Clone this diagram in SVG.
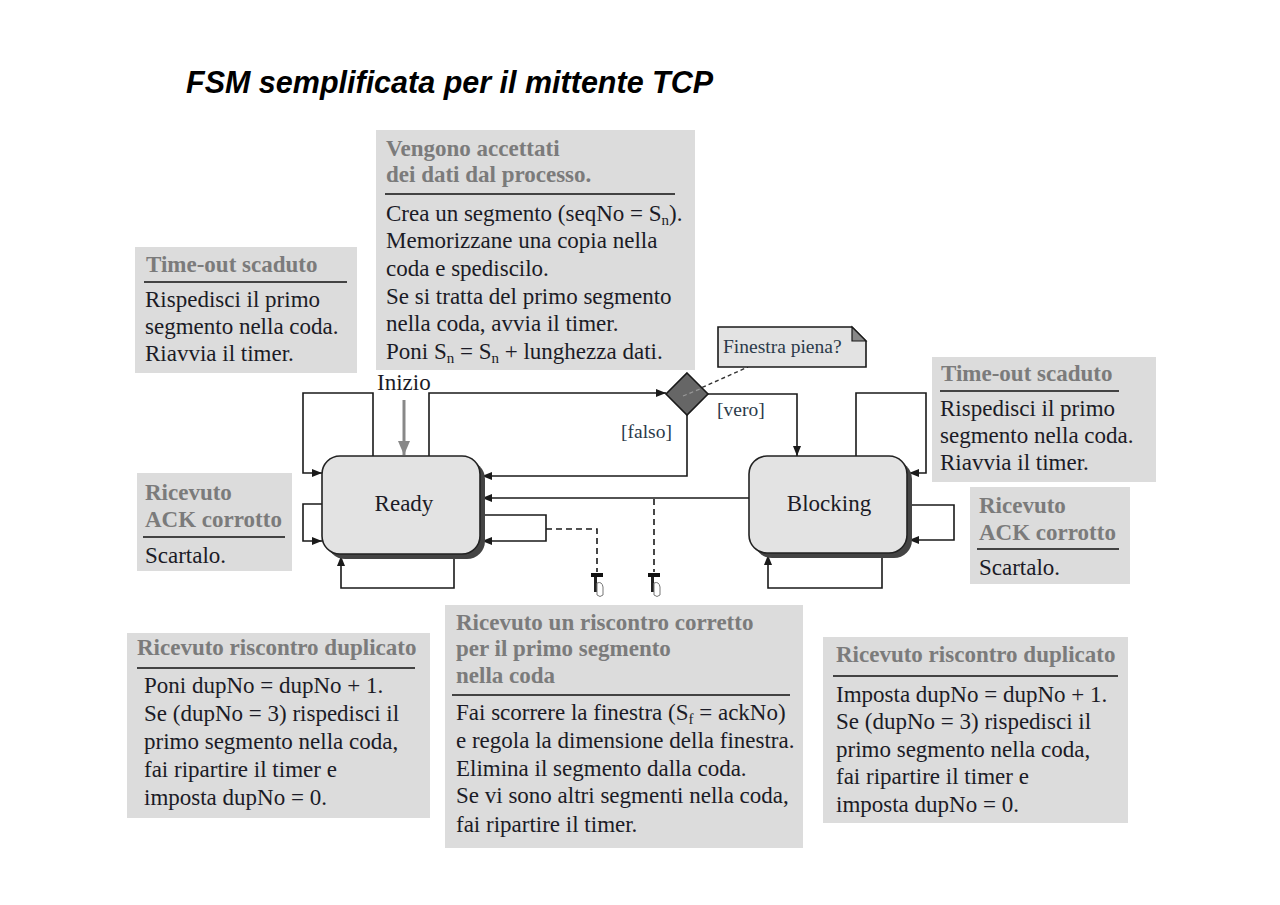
<svg xmlns="http://www.w3.org/2000/svg" width="1280" height="905" viewBox="0 0 1280 905">
<defs>
<marker id="arr" markerWidth="10" markerHeight="8" refX="10" refY="4" orient="auto" markerUnits="userSpaceOnUse">
<path d="M0,0 L10,4 L0,8 z" fill="#1a1a1a"/>
</marker>
<marker id="garr" markerWidth="14" markerHeight="12" refX="14" refY="6" orient="auto" markerUnits="userSpaceOnUse">
<path d="M0,0 L14,6 L0,12 z" fill="#888"/>
</marker>
<g id="tsym">
<rect x="-6" y="0" width="12" height="4" fill="#111"/>
<rect x="-3" y="4" width="3" height="15" fill="#222"/>
<path d="M0,10 q5,-2 6,4 l0,8 q-3,3 -6,0 z" fill="none" stroke="#777" stroke-width="1"/>
</g>
</defs>
<style>
.box{fill:#dcdcdc}
.hd{font-family:"Liberation Serif",serif;font-weight:bold;font-size:23px;fill:#7b7b7b}
.bd{font-family:"Liberation Serif",serif;font-size:23px;fill:#1b1b26}
.rule{stroke:#111;stroke-width:1.6}
.node{fill:#e3e3e3;stroke:#222;stroke-width:1.6}
.shadow{fill:#444}
.nt{font-family:"Liberation Serif",serif;font-size:23px;fill:#1b1b26;text-anchor:middle}
.lbl{font-family:"Liberation Serif",serif;font-size:19.5px;fill:#2b3a4a}
.c{fill:none;stroke:#1a1a1a;stroke-width:1.6}
.dash{fill:none;stroke:#1a1a1a;stroke-width:1.6;stroke-dasharray:6,4}
.sub{font-size:15px}
</style>
<rect width="1280" height="905" fill="#fff"/>
<text x="186" y="93" font-family="Liberation Sans, Arial, sans-serif" font-weight="bold" font-style="italic" font-size="30.5" fill="#000">FSM semplificata per il mittente TCP</text>

<g id="box-accettati">
<rect class="box" x="376" y="130" width="319" height="240"/>
<text class="hd" x="386" y="156">Vengono accettati</text>
<text class="hd" x="386" y="182">dei dati dal processo.</text>
<line class="rule" x1="385" y1="194" x2="675" y2="194"/>
<text class="bd" x="386" y="221">Crea un segmento (seqNo = S<tspan class="sub" dy="4">n</tspan><tspan dy="-4">).</tspan></text>
<text class="bd" x="386" y="248">Memorizzane una copia nella</text>
<text class="bd" x="386" y="276">coda e spediscilo.</text>
<text class="bd" x="386" y="304">Se si tratta del primo segmento</text>
<text class="bd" x="386" y="331">nella coda, avvia il timer.</text>
<text class="bd" x="386" y="359">Poni S<tspan class="sub" dy="4">n</tspan><tspan dy="-4"> = S</tspan><tspan class="sub" dy="4">n</tspan><tspan dy="-4"> + lunghezza dati.</tspan></text>
</g>

<g id="box-timeout-ready">
<rect class="box" x="135" y="247" width="222" height="126"/>
<text class="hd" x="146" y="272">Time-out scaduto</text>
<line class="rule" x1="144" y1="282" x2="347" y2="282"/>
<text class="bd" x="145" y="307">Rispedisci il primo</text>
<text class="bd" x="145" y="334">segmento nella coda.</text>
<text class="bd" x="145" y="361">Riavvia il timer.</text>
</g>

<g id="box-ack-ready">
<rect class="box" x="137" y="473" width="155" height="98"/>
<text class="hd" x="145" y="500">Ricevuto</text>
<text class="hd" x="145" y="527">ACK corrotto</text>
<line class="rule" x1="143" y1="537" x2="285" y2="537"/>
<text class="bd" x="145" y="563">Scartalo.</text>
</g>

<g id="box-timeout-blocking">
<rect class="box" x="932" y="357" width="224" height="125"/>
<text class="hd" x="941" y="381">Time-out scaduto</text>
<line class="rule" x1="940" y1="391" x2="1119" y2="391"/>
<text class="bd" x="940" y="416">Rispedisci il primo</text>
<text class="bd" x="940" y="443">segmento nella coda.</text>
<text class="bd" x="940" y="470">Riavvia il timer.</text>
</g>

<g id="box-ack-blocking">
<rect class="box" x="970" y="487" width="160" height="97"/>
<text class="hd" x="979" y="513">Ricevuto</text>
<text class="hd" x="979" y="540">ACK corrotto</text>
<line class="rule" x1="977" y1="549" x2="1119" y2="549"/>
<text class="bd" x="979" y="575">Scartalo.</text>
</g>

<g id="box-dup-ready">
<rect class="box" x="127" y="633" width="303" height="185"/>
<text class="hd" x="137" y="655">Ricevuto riscontro duplicato</text>
<line class="rule" x1="137" y1="668" x2="415" y2="668"/>
<text class="bd" x="144" y="693">Poni dupNo = dupNo + 1.</text>
<text class="bd" x="144" y="721">Se (dupNo = 3) rispedisci il</text>
<text class="bd" x="144" y="749">primo segmento nella coda,</text>
<text class="bd" x="144" y="777">fai ripartire il timer e</text>
<text class="bd" x="144" y="805">imposta dupNo = 0.</text>
</g>

<g id="box-ack-ok">
<rect class="box" x="445" y="605" width="358" height="243"/>
<text class="hd" x="456" y="630">Ricevuto un riscontro corretto</text>
<text class="hd" x="456" y="656">per il primo segmento</text>
<text class="hd" x="456" y="683">nella coda</text>
<line class="rule" x1="452" y1="695" x2="790" y2="695"/>
<text class="bd" x="456" y="720">Fai scorrere la finestra (S<tspan class="sub" dy="4">f</tspan><tspan dy="-4">  = ackNo)</tspan></text>
<text class="bd" x="456" y="748">e regola la dimensione della finestra.</text>
<text class="bd" x="456" y="776">Elimina il segmento dalla coda.</text>
<text class="bd" x="456" y="803">Se vi sono altri segmenti nella coda,</text>
<text class="bd" x="456" y="832">fai ripartire il timer.</text>
</g>

<g id="box-dup-blocking">
<rect class="box" x="823" y="637" width="305" height="186"/>
<text class="hd" x="836" y="662">Ricevuto riscontro duplicato</text>
<line class="rule" x1="833" y1="676" x2="1118" y2="676"/>
<text class="bd" x="836" y="702">Imposta dupNo = dupNo + 1.</text>
<text class="bd" x="836" y="729">Se (dupNo = 3) rispedisci il</text>
<text class="bd" x="836" y="757">primo segmento nella coda,</text>
<text class="bd" x="836" y="784">fai ripartire il timer e</text>
<text class="bd" x="836" y="812">imposta dupNo = 0.</text>
</g>

<g id="connectors">
<path class="c" d="M373,456 V393 H303 V473 H322" marker-end="url(#arr)"/>
<path class="c" d="M322,504 H303 V541 H322" marker-end="url(#arr)"/>
<path class="c" d="M454,556 V588 H341 V556" marker-end="url(#arr)"/>
<path class="c" d="M482,515 H546 V541 H482" marker-end="url(#arr)"/>
<path class="c" d="M429,456 V393 H666" marker-end="url(#arr)"/>
<path class="c" d="M708,394 H797 V456" marker-end="url(#arr)"/>
<path class="c" d="M687,415 V476 H482" marker-end="url(#arr)"/>
<path class="c" d="M749,498 H482" marker-end="url(#arr)"/>
<path class="c" d="M856,456 V393 H926 V473 H909" marker-end="url(#arr)"/>
<path class="c" d="M909,505 H954 V540 H909" marker-end="url(#arr)"/>
<path class="c" d="M882,555 V588 H768 V555" marker-end="url(#arr)"/>
<path class="dash" d="M546,529 H597 V572"/>
<path class="dash" d="M654,499 V572"/>
<line x1="404" y1="400" x2="404" y2="455" stroke="#888" stroke-width="3" marker-end="url(#garr)"/>
<line x1="683" y1="396" x2="748" y2="367" stroke="#333" stroke-width="1.4" stroke-dasharray="4,3"/>
<use href="#tsym" x="597" y="573"/>
<use href="#tsym" x="654" y="573"/>
</g>

<g id="node-ready">
<rect class="shadow" x="327" y="461" width="158" height="98" rx="18"/>
<rect class="node" x="322" y="456" width="158" height="98" rx="18"/>
<text class="nt" x="404" y="511">Ready</text>
</g>

<g id="node-blocking">
<rect class="shadow" x="754" y="461" width="158" height="97" rx="18"/>
<rect class="node" x="749" y="456" width="158" height="97" rx="18"/>
<text class="nt" x="829" y="511">Blocking</text>
</g>

<g id="diamond">
<polygon points="687,373 708,394 687,415 666,394" fill="#666" stroke="#1a1a1a" stroke-width="1.6"/>
<line x1="683" y1="396" x2="700" y2="389" stroke="#999" stroke-width="1.2" stroke-dasharray="4,3"/>
</g>

<g id="note">
<polygon points="718,327 852,327 866,341 866,367 718,367" fill="#e3e3e3" stroke="#1a1a1a" stroke-width="1.6"/>
<polygon points="852,327 852,341 866,341" fill="#888" stroke="#1a1a1a" stroke-width="1.2"/>
<text class="lbl" x="723" y="353" fill="#1b1b26">Finestra piena?</text>
</g>

<text class="bd" x="377" y="390">Inizio</text>
<text class="lbl" x="717" y="416">[vero]</text>
<text class="lbl" x="621" y="438">[falso]</text>
</svg>
